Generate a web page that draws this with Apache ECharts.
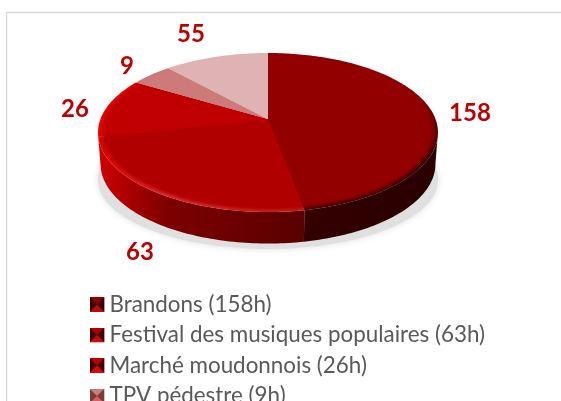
<!DOCTYPE html>
<html>
<head>
<meta charset="utf-8">
<style>
html, body { margin: 0; padding: 0; background: #fff; overflow: hidden; height: 401px; }
#main { width: 561px; height: 430px; }
</style>
<script src="https://cdn.jsdelivr.net/npm/echarts@6/dist/echarts.min.js"></script>
</head>
<body>
<div id="main"></div>
<script>
// legend names (the fifth row is off the page in the reference)
var categories = ['Brandons (158h)', 'Festival des musiques populaires (63h)', 'Marché moudonnois (26h)', 'TPV pédestre (9h)', ''];
// numbers printed next to the pie
var printedValues = [158, 63, 26, 9, 55];
// size of each wedge as drawn, in percent: they do not follow the printed numbers
var wedgeShares = [47.1, 24.3, 12.2, 4.7, 11.7];

var faceColors = ['#920000', '#b00000', '#c00000', '#cc7a7a', '#dfb3b3'];
var rimColors = [
    ['#920000', '#700000', '#340000', '#480000'],
    ['#e00000', '#d82a2a', '#c01818', '#a80000'],
    ['#f00000', '#d80000', '#c00000', '#c00000'],
    ['#cc7a7a', '#cc7a7a', '#cc7a7a', '#cc7a7a'],
    ['#dfb3b3', '#dfb3b3', '#dfb3b3', '#dfb3b3']
];
var wallColors = [
    ['#700000', '#480000', '#340000', '#2a0000'],
    ['#d00000', '#7e0000', '#5a0000', '#480000'],
    ['#d00000', '#c00000', '#a00000', '#a00000'],
    ['#a05050', '#a05050', '#a05050', '#a05050'],
    ['#b08080', '#b08080', '#b08080', '#b08080']
];
var labelPlaces = [[470, 113], [140, 252], [75, 109], [127, 66], [191, 34]];

// pie seen in perspective: apex and projection of the unit circle
var apexX = 268, apexY = 119, spanX = 167.5, spanY = 77.2, tilt = 0.17, depth = 31.5;
// the wall is only seen between the two silhouette points of the rim
var wallFrom = Math.PI - Math.acos(tilt);
var wallTo = Math.PI + Math.acos(tilt);

function project(angle, r) {
    var u = r * Math.sin(angle), v = -r * Math.cos(angle), w = 1 - tilt * v;
    return [apexX + spanX * u / w, apexY + spanY * v / w];
}

function arcPoints(a0, a1, r) {
    var pts = [], n = Math.max(2, Math.ceil((a1 - a0) / 0.02));
    for (var i = 0; i <= n; i++) {
        pts.push(project(a0 + (a1 - a0) * i / n, r));
    }
    return pts;
}

function sideGradient(colors, vertical) {
    var stops = [
        { offset: 0, color: colors[0] },
        { offset: 0.2, color: colors[1] },
        { offset: 0.6, color: colors[2] },
        { offset: 1, color: colors[3] }
    ];
    return vertical
        ? new echarts.graphic.LinearGradient(0, 90, 0, 212, stops, true)
        : new echarts.graphic.LinearGradient(98, 0, 438, 0, stops, true);
}

function wallShape(a0, a1) {
    var top = arcPoints(a0, a1, 1);
    var bottom = top.map(function (p) {
        return [apexX + (p[0] - apexX) * 0.985, p[1] + depth];
    }).reverse();
    return top.concat(bottom);
}

var totalShare = wedgeShares.reduce(function (s, v) { return s + v; }, 0);

function makeSeries(name, index) {
    return {
        type: 'custom',
        name: name,
        coordinateSystem: 'none',
        silent: true,
        z: 2,
        itemStyle: { color: faceColors[index] },
        data: [wedgeShares[index]],
        renderItem: function (params, api) {
            var before = wedgeShares.slice(0, index).reduce(function (s, v) { return s + v; }, 0);
            var a0 = before / totalShare * Math.PI * 2;
            var a1 = (before + api.value(0)) / totalShare * Math.PI * 2;
            var apex = project(0, 0);
            var children = [];
            var w0 = Math.max(a0, wallFrom), w1 = Math.min(a1, wallTo);
            if (w1 > w0) {
                children.push({
                    type: 'polygon',
                    shape: { points: wallShape(w0, w1) },
                    style: { fill: sideGradient(wallColors[index]) }
                });
            }
            children.push({
                type: 'polygon',
                shape: { points: [apex].concat(arcPoints(a0, a1, 1)) },
                style: { fill: sideGradient(rimColors[index], index === 0) }
            });
            // soft bevel: flat face fades in over the rim
            [0.992, 0.984, 0.976, 0.968, 0.96, 0.952, 0.944].forEach(function (r, k) {
                children.push({
                    type: 'polygon',
                    shape: { points: [apex].concat(arcPoints(a0, a1, r)) },
                    style: { fill: faceColors[index], opacity: (k + 1) / 7 }
                });
            });
            children.push({
                type: 'text',
                z2: 10,
                style: {
                    text: String(printedValues[index]),
                    x: labelPlaces[index][0],
                    y: labelPlaces[index][1],
                    align: 'center',
                    verticalAlign: 'middle',
                    fill: '#c00000',
                    font: 'bold 24px Lato, sans-serif'
                }
            });
            return { type: 'group', children: children };
        }
    };
}

// small pyramid swatch of the legend
function swatch(i) {
    var dark = i < 3 ? 0.8 : 0.5;
    var svg = '<svg xmlns="http://www.w3.org/2000/svg" width="15" height="15">' +
        '<rect width="15" height="15" fill="' + faceColors[i] + '"/>' +
        '<path d="M0 0L7.5 7.5L0 15Z" fill="#200" fill-opacity="' + dark + '"/>' +
        '<path d="M15 0L7.5 7.5L15 15Z" fill="#200" fill-opacity="' + dark + '"/>' +
        '<path d="M0 15L7.5 7.5L15 15Z" fill="#f22" fill-opacity="0.35"/></svg>';
    return 'image://data:image/svg+xml;charset=utf-8,' + encodeURIComponent(svg);
}

var chart = echarts.init(document.getElementById('main'), null, { renderer: 'canvas' });

chart.setOption({
    animation: false,
    backgroundColor: '#fff',
    graphic: {
        elements: [{
            type: 'rect',
            z: -10,
            shape: { x: 6.5, y: 12.5, width: 700, height: 600 },
            style: { fill: '#fff', stroke: '#d9d9d9', lineWidth: 1.5 }
        }, {
            // floor shadow under the pie
            type: 'ellipse',
            z: -5,
            shape: { cx: 268, cy: 180, rx: 170, ry: 69 },
            style: { fill: '#e0e0e0', shadowBlur: 7, shadowColor: '#e0e0e0' }
        }]
    },
    legend: {
        orient: 'vertical',
        left: 84.5,
        top: 288,
        itemGap: 7.5,
        itemWidth: 15,
        itemHeight: 15,
        data: categories.slice(0, 4).map(function (name, i) {
            return { name: name, icon: swatch(i) };
        }),
        textStyle: {
            color: '#595959',
            fontFamily: 'Lato, sans-serif',
            fontSize: 22.4,
            lineHeight: 23
        }
    },
    series: categories.map(makeSeries)
});
</script>
</body>
</html>
